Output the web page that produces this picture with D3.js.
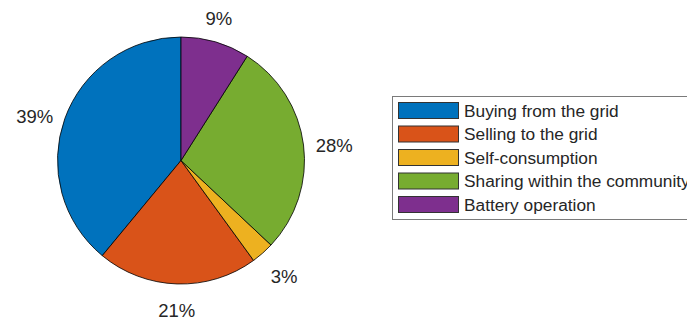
<!DOCTYPE html>
<html>
<head>
<meta charset="utf-8">
<script src="https://cdn.jsdelivr.net/npm/d3@7"></script>
<style>
  html, body { margin: 0; padding: 0; background: #fff; }
  svg { display: block; }
  text { font-family: "Liberation Sans", Arial, Helvetica, sans-serif; fill: #262626; }
</style>
</head>
<body>
<svg id="chart" width="687" height="322"></svg>
<script>
// Energy flow shares (percent)
const categories = [
  "Buying from the grid",
  "Selling to the grid",
  "Self-consumption",
  "Sharing within the community",
  "Battery operation"
];
const shares = [39, 21, 3, 28, 9];
const labels = ["39%", "21%", "3%", "28%", "9%"];
const colors = ["#0072BD", "#D95319", "#EDB120", "#77AC30", "#7E2F8E"];

const W = 687, H = 322;
const svg = d3.select("#chart");

const cx = 181, cy = 160.5, R = 123.5;
const data = categories.map((c, i) => ({ name: c, value: shares[i], label: labels[i], color: colors[i] }));

// Slices run counter-clockwise from 12 o'clock
const pie = d3.pie()
  .value(d => d.value)
  .sort(null)
  .startAngle(0)
  .endAngle(-2 * Math.PI);

const arc = d3.arc().innerRadius(0).outerRadius(R);
const arcs = pie(data);

const g = svg.append("g").attr("transform", `translate(${cx},${cy})`);

g.selectAll("path.slice")
  .data(arcs)
  .join("path")
  .attr("class", "slice")
  .attr("d", arc)
  .attr("fill", d => d.data.color)
  .attr("stroke", "#000")
  .attr("stroke-width", 0.8)
  .attr("stroke-linejoin", "round");

// Percent labels just outside the rim
const labelR = R * 1.1;
const fs = 18.5;
g.selectAll("text.pct")
  .data(arcs)
  .join("text")
  .attr("class", "pct")
  .attr("font-size", fs)
  .each(function(d) {
    const a = (d.startAngle + d.endAngle) / 2;
    const s = Math.sin(a), c = Math.cos(a);
    const x = labelR * s, y = -labelR * c;
    let anchor = "middle";
    if (s > 0.3) anchor = "start";
    else if (s < -0.3) anchor = "end";
    let dy;
    if (c > 0.7) dy = -5;                   // above: bottom aligned
    else if (c < -0.7) dy = fs * 0.72 + 7;  // below: top aligned
    else dy = fs * 0.36 + 1.5;              // side: vertically centred
    d3.select(this)
      .attr("x", x)
      .attr("y", y + dy)
      .attr("text-anchor", anchor)
      .text(d.data.label);
  });

// Legend
const lg = svg.append("g").attr("transform", "translate(392,96)");
const rowH = 23.5;
lg.append("rect")
  .attr("x", 0.5).attr("y", 0.5)
  .attr("width", 320).attr("height", 123)
  .attr("fill", "#fff")
  .attr("stroke", "#7a7a7a")
  .attr("stroke-width", 1);

const rows = lg.selectAll("g.row")
  .data(data)
  .join("g")
  .attr("class", "row")
  .attr("transform", (d, i) => `translate(0,${6 + i * rowH})`);

rows.append("rect")
  .attr("x", 6.5).attr("y", 0.5)
  .attr("width", 60).attr("height", 16)
  .attr("fill", d => d.color)
  .attr("stroke", "#333")
  .attr("stroke-width", 1);

rows.append("text")
  .attr("x", 72)
  .attr("y", 8.5 + 6.2)
  .attr("font-size", 17.3)
  .text(d => d.name);
</script>
</body>
</html>
